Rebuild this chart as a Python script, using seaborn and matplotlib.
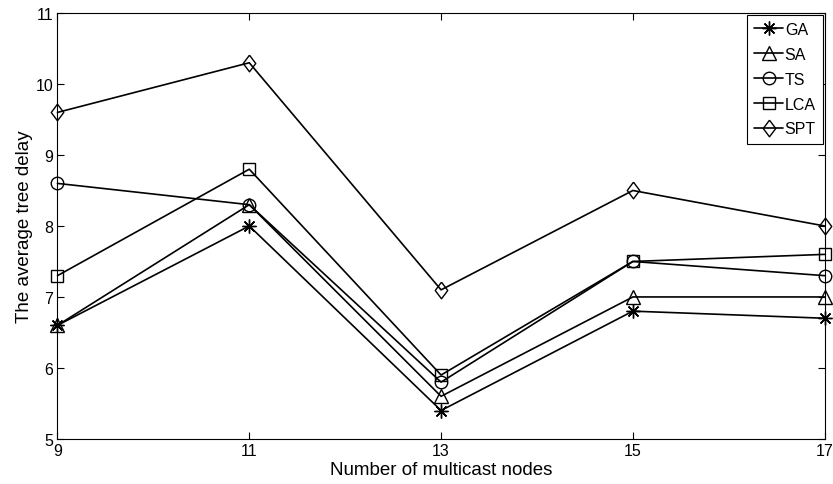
import matplotlib
matplotlib.use("Agg")
import matplotlib.pyplot as plt
import seaborn as sns

nodes = [9, 11, 13, 15, 17]
ga = [6.6, 8.0, 5.4, 6.8, 6.7]
sa = [6.6, 8.3, 5.6, 7.0, 7.0]
ts = [8.6, 8.3, 5.8, 7.5, 7.3]
lca = [7.3, 8.8, 5.9, 7.5, 7.6]
spt = [9.6, 10.3, 7.1, 8.5, 8.0]

diamond = [(0, 1), (0.75, 0), (0, -1), (-0.75, 0), (0, 1)]
series = [("GA", ga, (8, 2, 0), 10), ("SA", sa, "^", 10), ("TS", ts, "o", 9),
          ("LCA", lca, "s", 8), ("SPT", spt, diamond, 12)]

sns.set_style("ticks", {"axes.edgecolor": "black", "text.color": "black",
                        "xtick.color": "black", "ytick.color": "black",
                        "axes.labelcolor": "black"})
plt.rcParams["font.family"] = ["Liberation Sans", "DejaVu Sans"]

fig = plt.figure(figsize=(8.33, 4.85), dpi=100)
ax = fig.add_axes([0.069, 0.093, 0.921, 0.878])

for name, vals, mk, ms in series:
    sns.lineplot(x=nodes, y=vals, ax=ax, color="k", marker=mk, markersize=ms,
                 markerfacecolor="none", markeredgecolor="k", markeredgewidth=1.0,
                 linewidth=1.2, label=name, clip_on=False, zorder=3)

ax.set_xlim(9, 17)
ax.set_ylim(5, 11)
ax.set_xticks(nodes)
ax.set_yticks(range(5, 12))
ax.tick_params(direction="in", top=True, right=True, length=5, labelsize=11.5,
               width=0.8, pad=3)
for s in ax.spines.values():
    s.set_linewidth(0.8)
    s.set_visible(True)
ax.set_xlabel("Number of multicast nodes", fontsize=13.5, labelpad=2)
ax.set_ylabel("The average tree delay", fontsize=13.5, labelpad=2)

leg = ax.legend(loc="upper right", fontsize=11.5, frameon=True, fancybox=False,
                edgecolor="k", framealpha=1, borderaxespad=0.1, handlelength=1.8,
                handletextpad=0.1, labelspacing=0.62, borderpad=0.45)
leg.get_frame().set_linewidth(0.8)
leg.set_zorder(5)

fig.savefig("out.png", dpi=100)
